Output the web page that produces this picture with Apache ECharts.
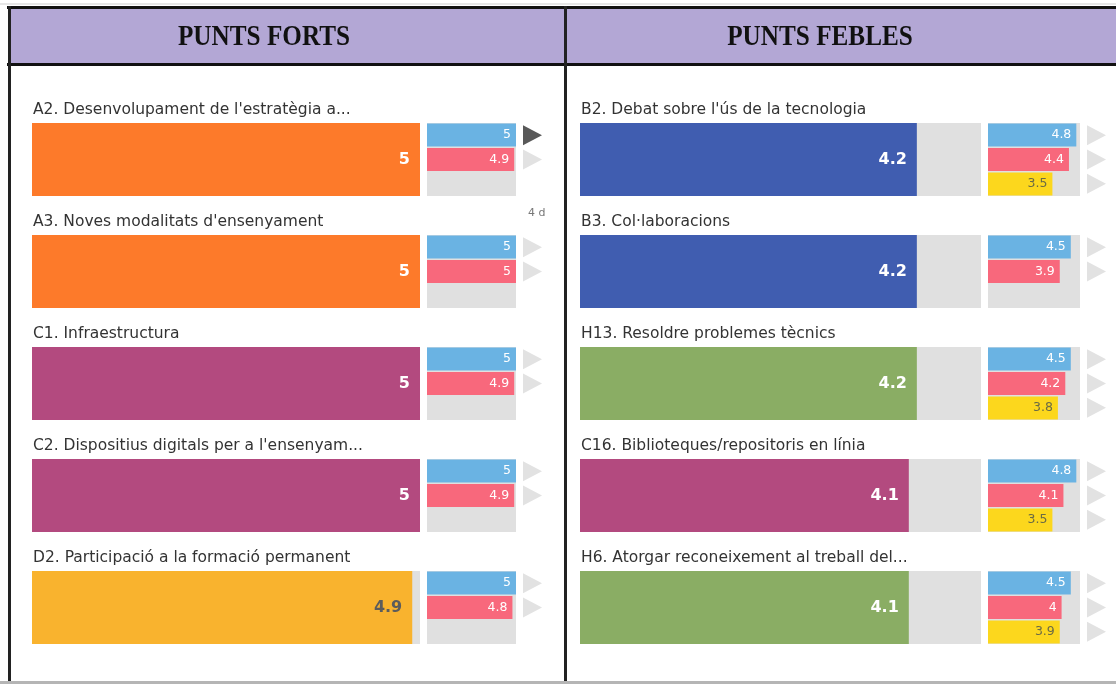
<!DOCTYPE html>
<html>
<head>
<meta charset="utf-8">
<script src="https://cdn.jsdelivr.net/npm/echarts@6/dist/echarts.min.js"></script>
<style>
html,body{margin:0;padding:0;background:#fff;}
#c{width:1116px;height:684px;}
</style>
</head>
<body>
<div id="c"></div>
<script>
// ---- data ----
var MAX_SCORE = 5;
var fortsTitle = 'PUNTS FORTS';
var feblesTitle = 'PUNTS FEBLES';

var fortsNames = [
  "A2. Desenvolupament de l'estratègia a...",
  "A3. Noves modalitats d'ensenyament",
  "C1. Infraestructura",
  "C2. Dispositius digitals per a l'ensenyam...",
  "D2. Participació a la formació permanent"
];
var fortsValues = [5, 5, 5, 5, 4.9];
var fortsColors = ['#fd7a2a', '#fd7a2a', '#b34a7f', '#b34a7f', '#f9b32e'];
var fortsBlue = [5, 5, 5, 5, 5];
var fortsRed = [4.9, 5, 4.9, 4.9, 4.8];
var fortsYellow = [null, null, null, null, null];

var feblesNames = [
  "B2. Debat sobre l'ús de la tecnologia",
  "B3. Col·laboracions",
  "H13. Resoldre problemes tècnics",
  "C16. Biblioteques/repositoris en línia",
  "H6. Atorgar reconeixement al treball del..."
];
var feblesValues = [4.2, 4.2, 4.2, 4.1, 4.1];
var feblesColors = ['#405db0', '#405db0', '#8aad64', '#b34a7f', '#8aad64'];
var feblesBlue = [4.8, 4.5, 4.5, 4.8, 4.5];
var feblesRed = [4.4, 3.9, 4.2, 4.1, 4];
var feblesYellow = [3.5, null, 3.8, 3.5, 3.9];

var highlightedTriangle = {panel: 0, row: 0, sub: 0};

// ---- styles ----
var TRACK = '#e0e0e0';
var BLUE = '#6ab3e3', RED = '#f8687c', YELLOW = '#fcd71d';
var FONT = '"DejaVu Sans", "Liberation Sans", Arial, sans-serif';

var chart = echarts.init(document.getElementById('c'), null, {renderer: 'canvas'});

var TOP = 103.5, HEIGHT = 560;
var panels = [
  {names: fortsNames, values: fortsValues, colors: fortsColors, blue: fortsBlue, red: fortsRed, yellow: fortsYellow,
   bigLeft: 32, bigWidth: 388, smallLeft: 427, smallWidth: 89},
  {names: feblesNames, values: feblesValues, colors: feblesColors, blue: feblesBlue, red: feblesRed, yellow: feblesYellow,
   bigLeft: 580, bigWidth: 401, smallLeft: 988, smallWidth: 92}
];

var grids = [], xAxes = [], yAxes = [], series = [];
panels.forEach(function (p, pi) {
  var base = grids.length;
  // big grid, small-track grid, small-bars grid
  [[p.bigLeft, p.bigWidth], [p.smallLeft, p.smallWidth], [p.smallLeft, p.smallWidth]].forEach(function (g) {
    grids.push({left: g[0], width: g[1], top: TOP, height: HEIGHT, containLabel: false});
    xAxes.push({type: 'value', gridIndex: grids.length - 1, min: 0, max: MAX_SCORE, show: false});
    yAxes.push({type: 'category', gridIndex: grids.length - 1, data: p.names, inverse: true, show: false});
  });
  var full = p.names.map(function () { return MAX_SCORE; });
  // big track with category label above
  series.push({
    type: 'bar', xAxisIndex: base, yAxisIndex: base, data: full, barWidth: 73, barGap: '-100%',
    itemStyle: {color: TRACK}, silent: true, z: 1,
    label: {show: true, formatter: function (prm) { return prm.name; }, position: [1, -13],
      align: 'left', verticalAlign: 'middle', color: '#333', fontFamily: FONT, fontSize: 15.5}
  });
  // big value bar
  series.push({
    type: 'bar', xAxisIndex: base, yAxisIndex: base, barWidth: 73, barGap: '-100%', z: 2,
    data: p.values.map(function (v, i) {
      return {value: v, itemStyle: {color: p.colors[i]},
        label: {color: p.colors[i] === '#f9b32e' ? '#5c5c5c' : '#ffffff'}};
    }),
    label: {show: true, position: 'insideRight', distance: 10, fontFamily: FONT, fontSize: 16, fontWeight: 'bold'}
  });
  // small track
  series.push({
    type: 'bar', xAxisIndex: base + 1, yAxisIndex: base + 1, data: full, barWidth: 73,
    itemStyle: {color: TRACK}, silent: true, z: 1
  });
  // triangles
  series.push({
    type: 'custom', xAxisIndex: base + 1, yAxisIndex: base + 1, z: 3, silent: true,
    data: p.names.map(function (n, i) {
      return [MAX_SCORE, i, p.blue[i] != null ? 1 : 0, p.red[i] != null ? 1 : 0, p.yellow[i] != null ? 1 : 0];
    }),
    encode: {x: 0, y: 1},
    renderItem: function (params, api) {
      var row = api.value(1);
      var end = api.coord([api.value(0), row]);
      var step = 24.3;
      var children = [];
      for (var s = 0; s < 3; s++) {
        if (!api.value(2 + s)) continue;
        var cy = end[1] + (s - 1) * step;
        var x0 = end[0] + 7;
        var dark = highlightedTriangle.panel === pi && highlightedTriangle.row === row && highlightedTriangle.sub === s;
        children.push({type: 'polygon', shape: {points: [[x0, cy - 10], [x0, cy + 10], [x0 + 19, cy]]},
          style: {fill: dark ? '#595959' : '#e2e2e2'}});
      }
      return {type: 'group', children: children};
    }
  });
  // small bars
  var smallLabel = {show: true, position: 'insideRight', distance: 5, fontFamily: FONT, fontSize: 12.5, color: '#fff'};
  [[p.blue, BLUE, '#fff'], [p.red, RED, '#fff'], [p.yellow, YELLOW, '#6b6b45']].forEach(function (s) {
    series.push({
      type: 'bar', xAxisIndex: base + 2, yAxisIndex: base + 2, barWidth: 23, barGap: '6%', z: 2,
      data: s[0].map(function (v) { return v == null ? '-' : v; }),
      itemStyle: {color: s[1]},
      label: Object.assign({}, smallLabel, {color: s[2]})
    });
  });
});

var headFont = 'bold 30px "Liberation Serif", "Times New Roman", serif';
var graphic = [
  {type: 'rect', shape: {x: 0, y: 3, width: 1116, height: 2}, style: {fill: '#e6e6e6'}, z: 0},
  {type: 'rect', shape: {x: 8, y: 7, width: 1108, height: 58}, style: {fill: '#b3a7d5'}, z: 0},
  {type: 'rect', shape: {x: 7, y: 6, width: 1109, height: 3}, style: {fill: '#111'}, z: 5},
  {type: 'rect', shape: {x: 7, y: 63, width: 1109, height: 3}, style: {fill: '#111'}, z: 5},
  {type: 'rect', shape: {x: 8, y: 6, width: 3, height: 676}, style: {fill: '#222'}, z: 5},
  {type: 'rect', shape: {x: 564, y: 6, width: 3, height: 676}, style: {fill: '#222'}, z: 5},
  {type: 'rect', shape: {x: 0, y: 681, width: 1116, height: 3}, style: {fill: '#b5b5b5'}, z: 5},
  {type: 'text', x: 264, y: 37, scaleX: 0.84, style: {text: fortsTitle, fill: '#111', font: headFont, textAlign: 'center', textVerticalAlign: 'middle'}, z: 6},
  {type: 'text', x: 820, y: 37, scaleX: 0.84, style: {text: feblesTitle, fill: '#111', font: headFont, textAlign: 'center', textVerticalAlign: 'middle'}, z: 6},
  {type: 'text', x: 528, y: 213, style: {text: '4 d', fill: '#777', font: '11px "DejaVu Sans", sans-serif', textAlign: 'left', textVerticalAlign: 'middle'}, z: 6}
];

chart.setOption({
  animation: false,
  backgroundColor: '#fff',
  grid: grids, xAxis: xAxes, yAxis: yAxes, series: series, graphic: graphic
});
</script>
</body>
</html>
